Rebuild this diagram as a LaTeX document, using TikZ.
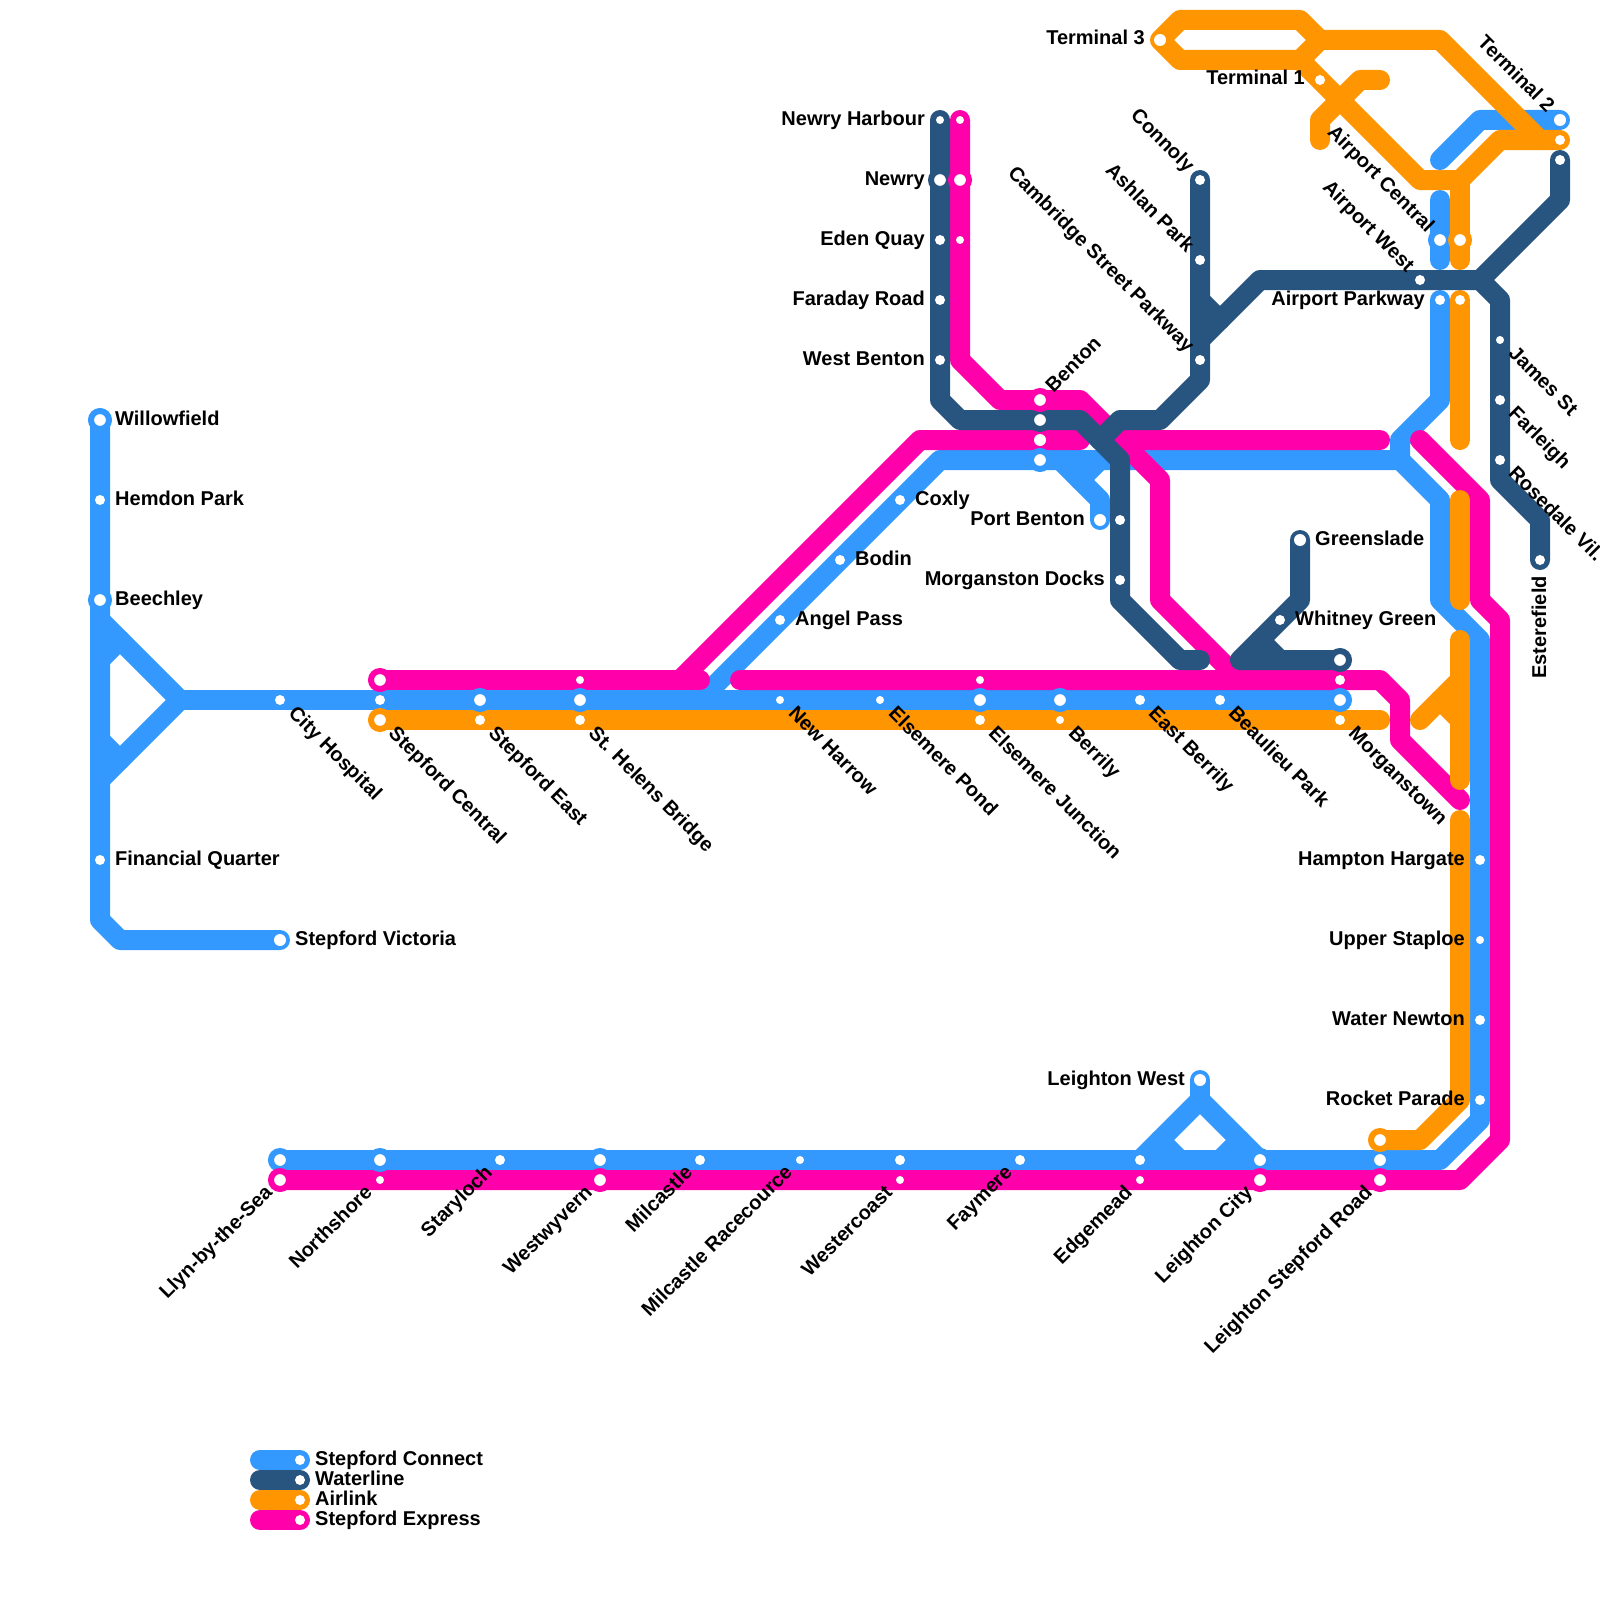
\documentclass[tikz,border=0pt]{standalone}
\usepackage{fontspec}
\setmainfont{Liberation Sans}[BoldFont={Liberation Sans Bold}]
\definecolor{conn}{HTML}{3399FF}
\definecolor{wat}{HTML}{285580}
\definecolor{air}{HTML}{FF9500}
\definecolor{exp}{HTML}{FF00AA}
\pgfdeclarelayer{lines}
\pgfsetlayers{lines,main}
\tikzset{
  tube/.style={line width=20pt,line cap=round,line join=round},
  conl/.style={tube,draw=conn},
  watl/.style={tube,draw=wat},
  airl/.style={tube,draw=air},
  expl/.style={tube,draw=exp},
  mdot/.style={circle,fill=white,inner sep=0pt,minimum size=12pt},
  sdot/.style={circle,fill=white,inner sep=0pt,minimum size=10pt},
  tdot/.style={circle,fill=white,inner sep=0pt,minimum size=8pt},
  ring/.style={circle,fill=white,draw=#1,line width=6pt,inner sep=0pt,minimum size=18pt},
  txt/.style={font=\fontsize{20}{22}\selectfont\bfseries,inner sep=0pt,text=black},
}
\newcommand{\st}[4]{\node[#2] (#1) at (#3,#4) {};}
\newcommand{\lR}[2]{\node[txt,anchor=base west] (#1-l) at ([shift={(15,5)}]#1.center) {#2};}
\newcommand{\lL}[2]{\node[txt,anchor=base east] (#1-l) at ([shift={(-15,5)}]#1.center) {#2};}
\newcommand{\lDR}[2]{\node[txt,anchor=base west,rotate=-45] (#1-l) at ([shift={(7.5,14.5)}]#1.center) {#2};}
\newcommand{\lUL}[2]{\node[txt,anchor=base east,rotate=-45] (#1-l) at ([shift={(-13.5,-6.5)}]#1.center) {#2};}
\newcommand{\lUR}[2]{\node[txt,anchor=base west,rotate=45] (#1-l) at ([shift={(13.5,-6.5)}]#1.center) {#2};}
\newcommand{\lDL}[2]{\node[txt,anchor=base east,rotate=45] (#1-l) at ([shift={(-6.5,13.5)}]#1.center) {#2};}
\begin{document}
\begin{tikzpicture}[x=1pt,y=-1pt]
\useasboundingbox (0,0) rectangle (1600,1600);
% --- Stepford Connect stations
\st{willow}{ring=conn}{100}{420}
\st{hemdon}{sdot}{100}{500}
\st{beech}{ring=conn}{100}{600}
\st{finq}{sdot}{100}{860}
\st{svic}{mdot}{280}{940}
\st{city}{sdot}{280}{700}
\st{scb}{sdot}{380}{700}
\st{seb}{ring=conn}{480}{700}
\st{shb}{ring=conn}{580}{700}
\st{nhar}{tdot}{780}{700}
\st{epond}{tdot}{880}{700}
\st{ejb}{ring=conn}{980}{700}
\st{berb}{ring=conn}{1060}{700}
\st{eber}{sdot}{1140}{700}
\st{beau}{sdot}{1220}{700}
\st{mtb}{ring=conn}{1340}{700}
\st{angel}{sdot}{780}{620}
\st{bodin}{sdot}{840}{560}
\st{coxly}{sdot}{900}{500}
\st{bentb}{ring=conn}{1040}{460}
\st{pben}{mdot}{1100}{520}
\st{llynb}{ring=conn}{280}{1160}
\st{nsb}{ring=conn}{380}{1160}
\st{stary}{sdot}{500}{1160}
\st{wwb}{ring=conn}{600}{1160}
\st{milc}{sdot}{700}{1160}
\st{mrace}{tdot}{800}{1160}
\st{wcb}{sdot}{900}{1160}
\st{fay}{sdot}{1020}{1160}
\st{edgeb}{sdot}{1140}{1160}
\st{lcb}{ring=conn}{1260}{1160}
\st{lsb}{ring=conn}{1380}{1160}
\st{lwest}{mdot}{1200}{1080}
\st{hamp}{sdot}{1480}{860}
\st{uppr}{tdot}{1480}{940}
\st{watn}{sdot}{1480}{1020}
\st{rock}{sdot}{1480}{1100}
\st{apkb}{sdot}{1440}{300}
\st{acb}{ring=conn}{1440}{240}
\st{t2b}{mdot}{1560}{120}
% --- Waterline stations
\st{nharb}{tdot}{940}{120}
\st{newryw}{ring=wat}{940}{180}
\st{edenw}{sdot}{940}{240}
\st{farad}{sdot}{940}{300}
\st{wben}{sdot}{940}{360}
\st{bentw}{ring=wat}{1040}{420}
\st{conn}{sdot}{1200}{180}
\st{ashl}{sdot}{1200}{260}
\st{camb}{sdot}{1200}{360}
\st{awest}{sdot}{1420}{280}
\st{james}{tdot}{1500}{340}
\st{farl}{sdot}{1500}{400}
\st{rose}{sdot}{1500}{460}
\st{ester}{sdot}{1540}{560}
\st{t2w}{sdot}{1560}{160}
\st{pbw}{sdot}{1120}{520}
\st{mdock}{sdot}{1120}{580}
\st{green}{mdot}{1300}{540}
\st{whit}{sdot}{1280}{620}
\st{mtw}{ring=wat}{1340}{660}
% --- Airlink stations
\st{t3}{mdot}{1160}{40}
\st{t1}{sdot}{1320}{80}
\st{t2a}{sdot}{1560}{140}
\st{aca}{ring=air}{1460}{240}
\st{apka}{sdot}{1460}{300}
\st{sca}{ring=air}{380}{720}
\st{sea}{sdot}{480}{720}
\st{sha}{sdot}{580}{720}
\st{eja}{sdot}{980}{720}
\st{bera}{tdot}{1060}{720}
\st{mta}{sdot}{1340}{720}
\st{lsa}{ring=air}{1380}{1140}
% --- Express stations
\st{nharm}{tdot}{960}{120}
\st{newrym}{ring=exp}{960}{180}
\st{edenm}{tdot}{960}{240}
\st{bentm}{ring=exp}{1040}{400}
\st{bentn}{mdot}{1040}{440}
\st{scm}{ring=exp}{380}{680}
\st{shm}{tdot}{580}{680}
\st{ejm}{tdot}{980}{680}
\st{mtm}{sdot}{1340}{680}
\st{llynm}{ring=exp}{280}{1180}
\st{nsm}{tdot}{380}{1180}
\st{wwm}{ring=exp}{600}{1180}
\st{wcm}{tdot}{900}{1180}
\st{edgem}{tdot}{1140}{1180}
\st{lcm}{ring=exp}{1260}{1180}
\st{lsm}{ring=exp}{1380}{1180}
% --- legend swatches
\st{k1}{sdot}{300}{1460}
\st{k2}{sdot}{300}{1480}
\st{k3}{sdot}{300}{1500}
\st{k4}{sdot}{300}{1520}
% --- labels
\lR{willow}{Willowfield}
\lR{hemdon}{Hemdon Park}
\lR{beech}{Beechley}
\lR{finq}{Financial Quarter}
\lR{svic}{Stepford Victoria}
\lDR{city}{City Hospital}
\lDR{sca}{Stepford Central}
\lDR{sea}{Stepford East}
\lDR{sha}{St. Helens Bridge}
\lDR{nhar}{New Harrow}
\lDR{epond}{Elsemere Pond}
\lDR{eja}{Elsemere Junction}
\lDR{bera}{Berrily}
\lDR{eber}{East Berrily}
\lDR{beau}{Beaulieu Park}
\lDR{mta}{Morganstown}
\lR{angel}{Angel Pass}
\lR{bodin}{Bodin}
\lR{coxly}{Coxly}
\lL{pben}{Port Benton}
\lDL{llynm}{Llyn-by-the-Sea}
\lDL{nsm}{Northshore}
\lDL{stary}{Staryloch}
\lDL{wwm}{Westwyvern}
\lDL{milc}{Milcastle}
\lDL{mrace}{Milcastle Racecource}
\lDL{wcm}{Westercoast}
\lDL{fay}{Faymere}
\lDL{edgem}{Edgemead}
\lDL{lcm}{Leighton City}
\lDL{lsm}{Leighton Stepford Road}
\lL{lwest}{Leighton West}
\lL{hamp}{Hampton Hargate}
\lL{uppr}{Upper Staploe}
\lL{watn}{Water Newton}
\lL{rock}{Rocket Parade}
\lL{apkb}{Airport Parkway}
\lUL{acb}{Airport Central}
\lUL{t2b}{Terminal 2}
\lL{nharb}{Newry Harbour}
\lL{newryw}{Newry}
\lL{edenw}{Eden Quay}
\lL{farad}{Faraday Road}
\lL{wben}{West Benton}
\lUR{bentm}{Benton}
\lUL{conn}{Connoly}
\lUL{ashl}{Ashlan Park}
\lUL{camb}{Cambridge Street Parkway}
\lUL{awest}{Airport West}
\lDR{james}{James St}
\lDR{farl}{Farleigh}
\lDR{rose}{Rosedale Vil.}
\node[txt,anchor=base east,rotate=90] (ester-l) at ([shift={(6,16)}]ester.center) {Esterefield};
\lL{mdock}{Morganston Docks}
\lR{green}{Greenslade}
\lR{whit}{Whitney Green}
\lL{t3}{Terminal 3}
\lL{t1}{Terminal 1}
\lR{k1}{Stepford Connect}
\lR{k2}{Waterline}
\lR{k3}{Airlink}
\lR{k4}{Stepford Express}
% --- lines
\begin{pgfonlayer}{lines}
% Stepford Connect
\draw[conl] (willow.center) -- (100,920) -- (120,940) -- (svic.center);
\draw[conl] (100,620) -- (180,700) -- (100,780);
\draw[conl] (100,660) -- (120,640);
\draw[conl] (100,740) -- (120,760);
\draw[conl] (180,700) -- (mtb.center);
\draw[conl] (700,700) -- (940,460) -- (1400,460) -- (1440,500) -- (1440,600) -- (1480,640) -- (1480,1120) -- (1440,1160) -- (llynb.center);
\draw[conl] (1060,460) -- (1100,500) -- (pben.center);
\draw[conl] (1080,480) -- (1100,460);
\draw[conl] (apkb.center) -- (1440,400) -- (1400,440) -- (1400,460);
\draw[conl] (1440,200) -- (1440,260);
\draw[conl] (1440,160) -- (1480,120) -- (t2b.center);
\draw[conl] (1140,1160) -- (1200,1100) -- (1260,1160);
\draw[conl] (lwest.center) -- (1200,1100);
\draw[conl] (1160,1140) -- (1180,1160);
\draw[conl] (1240,1140) -- (1220,1160);
% Stepford Express
\draw[expl] (scm.center) -- (700,680);
\draw[expl] (680,680) -- (920,440) -- (1080,440);
\draw[expl] (nharm.center) -- (960,360) -- (1000,400) -- (1080,400) -- (1120,440) -- (1380,440);
\draw[expl] (1120,440) -- (1160,480) -- (1160,600) -- (1240,680);
\draw[expl] (740,680) -- (1380,680) -- (1400,700) -- (1400,740) -- (1460,800);
\draw[expl] (1420,440) -- (1480,500) -- (1480,600) -- (1500,620) -- (1500,1140) -- (1460,1180) -- (llynm.center);
% Airlink
\draw[airl] (sca.center) -- (1380,720);
\draw[airl] (t3.center) -- (1180,20) -- (1300,20) -- (1320,40) -- (1300,60) -- (1180,60) -- cycle;
\draw[airl] (1320,40) -- (1440,40) -- (1540,140) -- (t2a.center);
\draw[airl] (1300,60) -- (1420,180) -- (1460,180) -- (1500,140) -- (1540,140);
\draw[airl] (1460,180) -- (1460,260);
\draw[airl] (1320,140) -- (1320,120) -- (1360,80) -- (1380,80);
\draw[airl] (apka.center) -- (1460,440);
\draw[airl] (1460,500) -- (1460,600);
\draw[airl] (1460,640) -- (1460,780);
\draw[airl] (1420,720) -- (1460,680);
\draw[airl] (1440,700) -- (1460,720);
\draw[airl] (1460,820) -- (1460,1100) -- (1420,1140) -- (lsa.center);
% Waterline
\draw[watl] (nharb.center) -- (940,400) -- (960,420) -- (1080,420) -- (1120,460) -- (1120,600) -- (1180,660) -- (1200,660);
\draw[watl] (conn.center) -- (1200,380) -- (1160,420) -- (1120,420) -- (1100,440);
\draw[watl] (1200,300) -- (1220,320);
\draw[watl] (1200,340) -- (1260,280) -- (1480,280) -- (1560,200) -- (t2w.center);
\draw[watl] (1480,280) -- (1500,300) -- (1500,480) -- (1540,520) -- (ester.center);
\draw[watl] (green.center) -- (1300,600) -- (1240,660) -- (mtw.center);
\draw[watl] (1260,640) -- (1280,660);
% legend
\draw[conl] (260,1460) -- (k1.center);
\draw[watl] (260,1480) -- (k2.center);
\draw[airl] (260,1500) -- (k3.center);
\draw[expl] (260,1520) -- (k4.center);
\end{pgfonlayer}
\end{tikzpicture}
\end{document}
